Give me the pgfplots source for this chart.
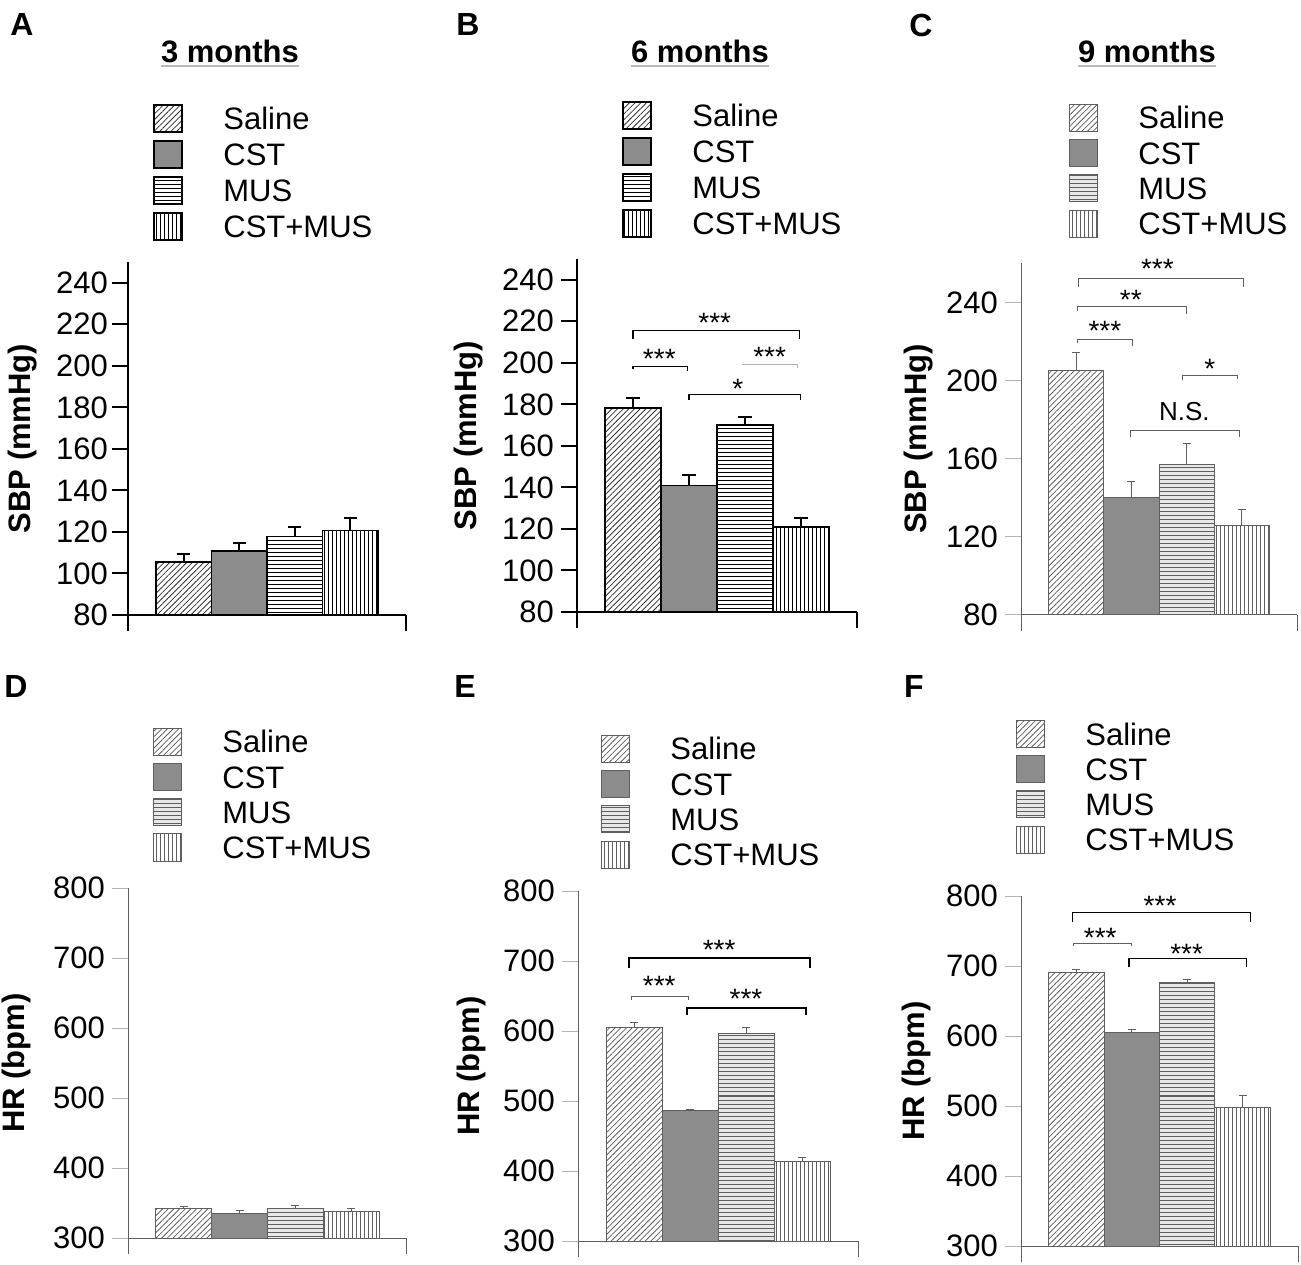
\documentclass[border=0pt]{standalone}
\usepackage{pgfplots}
\pgfplotsset{compat=1.18}
\usepackage{fontspec}
\setmainfont{Liberation Sans}
\usetikzlibrary{patterns.meta}

\definecolor{cst}{RGB}{140,140,140}
\definecolor{dk}{RGB}{95,95,95}
\definecolor{lt}{RGB}{180,180,180}

\newcommand{\fnt}{\fontsize{15.5}{16}\selectfont}

\pgfplotsset{
  panel/.style={
    scale only axis,
    axis lines=left,
    axis line style={-},
    xmin=0, xmax=5,
    xtick={0,5}, xticklabels={},
    tick align=outside,
    major tick length=8pt,
    clip mode=individual,
    /pgf/number format/assume math mode=true,
    tick label style={font=\fnt},
    ylabel style={font=\bfseries\fnt, anchor=center},
    legend cell align=left,
    legend style={draw=none, fill=none, inner sep=0pt, anchor=north west,
      nodes={inner sep=0pt, text height=12.25pt, text depth=1.25pt, font=\fnt},
      row sep=3.6pt,
      /tikz/every odd column/.append style={column sep=20pt}},
  },
  heavy/.style={
    axis line style={line width=1pt, black},
    tick style={line width=1pt, black},
  },
  light/.style={
    axis line style={line width=0.5pt, dk},
    ytick style={line width=0.5pt, lt},
    xtick style={line width=0.5pt, dk},
  },
  bxH/.style={legend image code/.code={\draw[##1, line width=1pt] (0pt,-6.75pt) rectangle (14pt,6.75pt);}},
  bxL/.style={legend image code/.code={\draw[##1] (0pt,-6.75pt) rectangle (14pt,6.75pt);}},
  barsH/.style={ybar, bar width=1, bar shift=0pt, bxH},
  barsL/.style={ybar, bar width=1, bar shift=0pt, bxL},
  % heavy outlines (panels A, B)
  salH/.style={draw=black, line width=0.75pt, pattern={Lines[angle=45,distance=2pt,line width=0.4pt]}, pattern color=black!80},
  cstH/.style={draw=black, line width=0.75pt, fill=cst},
  musH/.style={draw=black, line width=0.75pt, pattern={Lines[angle=0,distance=2pt,line width=0.45pt]}, pattern color=black},
  cmH/.style={draw=black, line width=0.75pt, pattern={Lines[angle=90,distance=2pt,line width=0.45pt]}, pattern color=black},
  % light outlines (panels C-F)
  salL/.style={draw=dk, line width=0.5pt, pattern={Lines[angle=45,distance=2pt,line width=0.4pt]}, pattern color=dk},
  cstL/.style={draw=dk, line width=0.5pt, fill=cst},
  musL/.style={draw=dk, line width=0.5pt, fill=gray!18,
    postaction={pattern={Lines[angle=0,distance=2pt,line width=0.5pt]}, pattern color=dk}},
  cmL/.style={draw=dk, line width=0.5pt, pattern={Lines[angle=90,distance=2pt,line width=0.5pt]}, pattern color=dk},
  ebH/.style={error bars/.cd, y dir=plus, y explicit,
    error bar style={line width=1pt, black},
    error mark options={rotate=90, mark size=3.3pt, line width=1pt, black}},
  ebL/.style={error bars/.cd, y dir=plus, y explicit,
    error bar style={line width=0.5pt, dk},
    error mark options={rotate=90, mark size=2pt, line width=0.5pt, dk}},
}

\tikzset{
  br/.style={line width=0.75pt, black},
  brT/.style={line width=0.5pt, dk},
  st/.style={font=\fontsize{14}{14}\selectfont, anchor=base, yshift=-8pt, inner sep=0pt},
  ns/.style={font=\fontsize{13}{13}\selectfont, anchor=base, yshift=-4.7pt, inner sep=0pt},
  lab/.style={font=\bfseries\fontsize{16}{16}\selectfont},
  ttl/.style={font=\bfseries\fnt, anchor=base, inner sep=0pt},
}

\begin{document}
\begin{tikzpicture}
\path[use as bounding box] (0pt,0pt) rectangle (650.5pt,632pt);

% ---------------- A: SBP, 3 months
\begin{axis}[panel, heavy, at={(64pt,324.5pt)}, anchor=south west,
  width=139pt, height=176.5pt, ymin=80, ymax=250, ytick={80,100,...,240},
  yticklabel style={xshift=1.5pt},
  ylabel={SBP (mmHg)}, ylabel style={at={(axis description cs:-0.381,0.5)}},
  legend style={at={(axis description cs:0.0899,1.449)}}]
\addplot[barsH, salH, ebH] coordinates {(1,105.5) +- (0,4.0)};
\addlegendentry{Saline}
\addplot[barsH, cstH, ebH] coordinates {(2,110.7) +- (0,4.1)};
\addlegendentry{CST}
\addplot[barsH, musH, ebH] coordinates {(3,117.9) +- (0,4.4)};
\addlegendentry{MUS}
\addplot[barsH, cmH, ebH] coordinates {(4,120.7) +- (0,5.9)};
\addlegendentry{CST+MUS}
\end{axis}

% ---------------- B: SBP, 6 months
\begin{axis}[panel, heavy, at={(288.5pt,326pt)}, anchor=south west,
  width=140pt, height=176.5pt, ymin=80, ymax=250, ytick={80,100,...,240},
  ylabel={SBP (mmHg)}, ylabel style={at={(axis description cs:-0.389,0.5)}},
  legend style={at={(axis description cs:0.1607,1.449)}}]
\addplot[barsH, salH, ebH] coordinates {(1,178.3) +- (0,4.9)};
\addlegendentry{Saline}
\addplot[barsH, cstH, ebH] coordinates {(2,140.9) +- (0,5.1)};
\addlegendentry{CST}
\addplot[barsH, musH, ebH] coordinates {(3,170.0) +- (0,3.8)};
\addlegendentry{MUS}
\addplot[barsH, cmH, ebH] coordinates {(4,121.0) +- (0,4.2)};
\addlegendentry{CST+MUS}
\draw[br] (axis cs:1,211.7) |- (axis cs:3.97,215.6) -- (axis cs:3.97,211.7);
\node[st] at (axis cs:2.46,222.3) {***};
\draw[br] (axis cs:1,196.8) |- (axis cs:1.97,198.3) -- (axis cs:1.97,196.3);
\node[st] at (axis cs:1.47,205) {***};
\draw[line width=0.5pt, gray!60] (axis cs:2.94,199.2) -- (axis cs:3.94,199.2) -- (axis cs:3.94,197.3);
\node[st] at (axis cs:3.44,206) {***};
\draw[br] (axis cs:2,181.9) |- (axis cs:3.99,184.8) -- (axis cs:3.99,181.9);
\node[st] at (axis cs:2.87,190.6) {*};
\end{axis}

% ---------------- C: SBP, 9 months
\begin{axis}[panel, light, at={(510.5pt,324.5pt)}, anchor=south west,
  width=138pt, height=176pt, ymin=80, ymax=260.5, ytick={80,120,...,240},
  ylabel={SBP (mmHg)}, ylabel style={at={(axis description cs:-0.373,0.5)}},
  legend style={at={(axis description cs:0.1739,1.453)}}]
\addplot[barsL, salL, ebL] coordinates {(1,205.2) +- (0,9.6)};
\addlegendentry{Saline}
\addplot[barsL, cstL, ebL] coordinates {(2,140.2) +- (0,8.4)};
\addlegendentry{CST}
\addplot[barsL, musL, ebL] coordinates {(3,157.2) +- (0,10.5)};
\addlegendentry{MUS}
\addplot[barsL, cmL, ebL] coordinates {(4,126.1) +- (0,7.8)};
\addlegendentry{CST+MUS}
\draw[brT] (axis cs:1.04,248.2) |- (axis cs:4.03,252.8) -- (axis cs:4.03,248.2);
\node[st] at (axis cs:2.47,261) {***};
\draw[brT] (axis cs:1.02,236) |- (axis cs:2.99,238) -- (axis cs:2.99,234.4);
\node[st] at (axis cs:1.99,245.1) {**};
\draw[brT] (axis cs:1.02,219.5) |- (axis cs:2.02,221.5) -- (axis cs:2.02,218);
\node[st] at (axis cs:1.52,229.2) {***};
\draw[brT] (axis cs:2.92,200.5) |- (axis cs:3.92,202.6) -- (axis cs:3.92,201);
\node[st] at (axis cs:3.42,209.7) {*};
\draw[brT] (axis cs:1.99,171.3) |- (axis cs:3.96,174.4) -- (axis cs:3.96,171.3);
\node[ns] at (axis cs:2.96,184.6) {N.S.};
\end{axis}

% ---------------- D: HR, 3 months
\begin{axis}[panel, light, at={(64pt,13pt)}, anchor=south west,
  width=139.5pt, height=175pt, ymin=300, ymax=800, ytick={300,400,...,800},
  ylabel={HR (bpm)}, ylabel style={at={(axis description cs:-0.398,0.5)}},
  legend style={at={(axis description cs:0.0896,1.4586)}}]
\addplot[barsL, salL, ebL] coordinates {(1,342.4) +- (0,3.3)};
\addlegendentry{Saline}
\addplot[barsL, cstL, ebL] coordinates {(2,335.2) +- (0,4.4)};
\addlegendentry{CST}
\addplot[barsL, musL, ebL] coordinates {(3,342.4) +- (0,3.9)};
\addlegendentry{MUS}
\addplot[barsL, cmL, ebL] coordinates {(4,337.4) +- (0,5.0)};
\addlegendentry{CST+MUS}
\end{axis}

% ---------------- E: HR, 6 months
\begin{axis}[panel, light, at={(289pt,11.5pt)}, anchor=south west,
  width=140pt, height=175pt, ymin=300, ymax=800, ytick={300,400,...,800},
  ylabel={HR (bpm)}, ylabel style={at={(axis description cs:-0.379,0.5)}},
  legend style={at={(axis description cs:0.0821,1.447)}}]
\addplot[barsL, salL, ebL] coordinates {(1,605.0) +- (0,6.6)};
\addlegendentry{Saline}
\addplot[barsL, cstL, ebL] coordinates {(2,486.8) +- (0,1.7)};
\addlegendentry{CST}
\addplot[barsL, musL, ebL] coordinates {(3,596.7) +- (0,8.8)};
\addlegendentry{MUS}
\addplot[barsL, cmL, ebL] coordinates {(4,413.2) +- (0,5.5)};
\addlegendentry{CST+MUS}
\draw[br] (axis cs:0.91,690.7) |- (axis cs:4.14,704.4) -- (axis cs:4.14,690.7);
\node[st] at (axis cs:2.52,725) {***};
\draw[brT] (axis cs:0.95,645) |- (axis cs:1.97,650) -- (axis cs:1.97,645);
\node[st] at (axis cs:1.45,674) {***};
\draw[br] (axis cs:1.95,622.5) |- (axis cs:4.07,633) -- (axis cs:4.07,622.5);
\node[st] at (axis cs:3.0,654.5) {***};
\end{axis}

% ---------------- F: HR, 9 months
\begin{axis}[panel, light, at={(510.5pt,9pt)}, anchor=south west,
  width=138.5pt, height=175pt, ymin=300, ymax=800, ytick={300,400,...,800},
  ylabel={HR (bpm)}, ylabel style={at={(axis description cs:-0.379,0.5)}},
  legend style={at={(axis description cs:-0.018,1.504)}}]
\addplot[barsL, salL, ebL] coordinates {(1,690.7) +- (0,3.8)};
\addlegendentry{Saline}
\addplot[barsL, cstL, ebL] coordinates {(2,605.5) +- (0,3.9)};
\addlegendentry{CST}
\addplot[barsL, musL, ebL] coordinates {(3,677.0) +- (0,3.8)};
\addlegendentry{MUS}
\addplot[barsL, cmL, ebL] coordinates {(4,498.4) +- (0,16.5)};
\addlegendentry{CST+MUS}
\draw[br] (axis cs:0.93,762.7) |- (axis cs:4.14,776.4) -- (axis cs:4.14,762.7);
\node[st] at (axis cs:2.51,795) {***};
\draw[brT] (axis cs:0.95,728.6) |- (axis cs:1.99,732.5) -- (axis cs:1.99,728.6);
\node[st] at (axis cs:1.43,749) {***};
\draw[br] (axis cs:1.95,698.5) |- (axis cs:4.07,710.5) -- (axis cs:4.07,698.5);
\node[st] at (axis cs:2.99,727) {***};
\end{axis}

% panel letters
\node[lab] at (11pt,619.5pt) {A};
\node[lab] at (234pt,619.5pt) {B};
\node[lab] at (460.5pt,619.5pt) {C};
\node[lab] at (8pt,289pt) {D};
\node[lab] at (232.5pt,289pt) {E};
\node[lab] at (457pt,289pt) {F};

% titles
\node[ttl] (tA) at (115pt,600.5pt) {3 months};
\node[ttl] (tB) at (350pt,600.5pt) {6 months};
\node[ttl] (tC) at (573.5pt,600.5pt) {9 months};
\foreach \t in {tA,tB,tC}
  \draw[gray!55, line width=1.2pt] ([yshift=-1.6pt]\t.base west) -- ([yshift=-1.6pt]\t.base east);
\end{tikzpicture}
\end{document}
